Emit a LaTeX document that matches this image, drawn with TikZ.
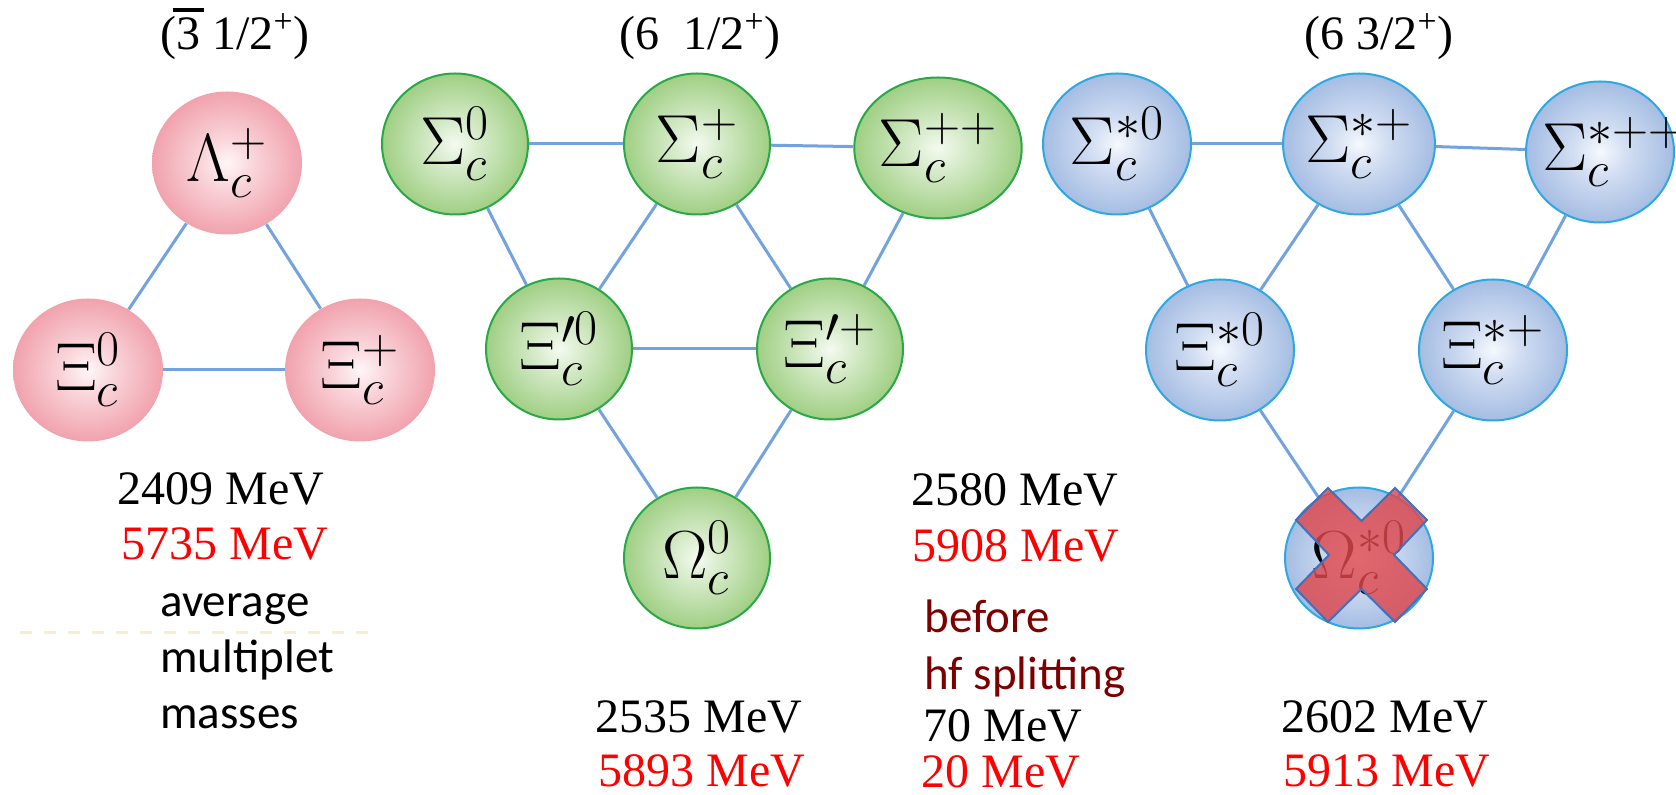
\RequirePackage{fix-cm}
\documentclass[tikz,border=0pt]{standalone}
\usepackage[no-math]{fontspec}
\setmainfont{Liberation Serif}
\newfontfamily\sansf{Carlito}
\DeclareMathSizes{34}{34}{25}{18}
\usetikzlibrary{shapes.geometric}
\definecolor{pinkA}{RGB}{255,246,247}
\definecolor{pinkM}{RGB}{249,212,217}
\definecolor{pinkB}{RGB}{241,162,173}
\definecolor{greenA}{RGB}{244,250,240}
\definecolor{greenM}{RGB}{212,234,199}
\definecolor{greenB}{RGB}{160,207,132}
\definecolor{greenD}{RGB}{40,168,70}
\definecolor{blueA}{RGB}{246,249,254}
\definecolor{blueM}{RGB}{210,222,242}
\definecolor{blueB}{RGB}{165,189,227}
\definecolor{blueD}{RGB}{45,168,225}
\definecolor{lineC}{RGB}{115,163,222}
\definecolor{crossC}{RGB}{222,72,78}
\definecolor{crossD}{RGB}{70,110,185}
\definecolor{dred}{RGB}{125,0,0}
\definecolor{faintY}{RGB}{250,236,205}
\pgfdeclareradialshading{pinkball}{\pgfpoint{0bp}{0bp}}{color(0bp)=(pinkA); color(9bp)=(pinkM); color(25bp)=(pinkB); color(50bp)=(pinkB)}
\pgfdeclareradialshading{greenball}{\pgfpoint{0bp}{0bp}}{color(0bp)=(greenA); color(9bp)=(greenM); color(25bp)=(greenB); color(50bp)=(greenB)}
\pgfdeclareradialshading{blueball}{\pgfpoint{0bp}{0bp}}{color(0bp)=(blueA); color(9bp)=(blueM); color(25bp)=(blueB); color(50bp)=(blueB)}
\begin{document}
\begin{tikzpicture}[x=0.5pt,y=-0.5pt,
  ball/.style={ellipse, inner sep=0pt, font=\fontsize{34}{40}\selectfont},
  pinkn/.style={ball, minimum width=75pt, minimum height=71.5pt, shade, shading=pinkball},
  greenn/.style={ball, minimum width=73pt, minimum height=70.5pt, shade, shading=greenball, draw=greenD, line width=1pt},
  bluen/.style={ball, minimum width=74pt, minimum height=70.5pt, shade, shading=blueball, draw=blueD, line width=1pt},
  link/.style={draw=lineC, line width=1.5pt},
  serif/.style={inner sep=0pt, anchor=base west, font=\fontsize{24}{28}\selectfont},
  sans/.style={inner sep=0pt, anchor=base west, font=\sansf\fontsize{23.5}{28}\selectfont},
  crossst/.style={fill=crossC, fill opacity=0.82, draw=crossD, line width=1pt, line join=miter}]
\fill[white] (0,0) rectangle (1676,795);
\useasboundingbox (0,0) rectangle (1676,795);

% titles
\node[serif] (t1) at (160,50) {(\makebox[0pt][l]{\hspace{-0.08em}\rule[0.8em]{0.66em}{0.08em}}3 1/2\textsuperscript{+})};
\node[serif] (t2) at (619,50) {(6\hspace{0.5em}1/2\textsuperscript{+})};
\node[serif] (t3) at (1304,50) {(6 3/2\textsuperscript{+})};

% antitriplet
\node[pinkn] (lam) at (227,163) {$\Lambda_c^{+}$};
\node[pinkn] (xi0) at (88,370) {$\Xi_c^{0}$};
\node[pinkn] (xip) at (360,370) {$\Xi_c^{+}$};

% sextet 1/2
\node[greenn] (s0) at (455,144) {$\Sigma_c^{0}$};
\node[greenn] (sp) at (697,144) {$\Sigma_c^{+}$};
\node[greenn] (spp) at (938,148) {$\Sigma_c^{++}$};
\node[greenn] (xp0) at (559,349) {$\Xi_c^{\prime 0}$};
\node[greenn] (xpp) at (830,349) {$\Xi_c^{\prime +}$};
\node[greenn] (om) at (697,558) {$\Omega_c^{0}$};

% sextet 3/2
\node[bluen] (ss0) at (1117,144) {$\Sigma_c^{*0}$};
\node[bluen] (ssp) at (1359,144) {$\Sigma_c^{*+}$};
\node[bluen] (sspp) at (1600,152) {\makebox[40pt][l]{\hspace{-9pt}$\Sigma_c^{*++}$}};
\node[bluen] (xs0) at (1220,350) {$\Xi_c^{*0}$};
\node[bluen] (xsp) at (1493,350) {$\Xi_c^{*+}$};
\node[bluen] (oms) at (1359,558) {$\Omega_c^{*0}$};

% connectors
\draw[link] (lam) -- (xi0);
\draw[link] (lam) -- (xip);
\draw[link] (xi0) -- (xip);

\draw[link] (s0) -- (sp);
\draw[link] (sp) -- (spp);
\draw[link] (s0) -- (xp0);
\draw[link] (sp) -- (xp0);
\draw[link] (sp) -- (xpp);
\draw[link] (spp) -- (xpp);
\draw[link] (xp0) -- (xpp);
\draw[link] (xp0) -- (om);
\draw[link] (xpp) -- (om);

\draw[link] (ss0) -- (ssp);
\draw[link] (ssp) -- (sspp);
\draw[link] (ss0) -- (xs0);
\draw[link] (ssp) -- (xs0);
\draw[link] (ssp) -- (xsp);
\draw[link] (sspp) -- (xsp);
\draw[link] (xs0) -- (oms);
\draw[link] (xsp) -- (oms);

% cross over Omega_c^{*0}
\begin{scope}[shift={(oms.center)}]
\filldraw[crossst] (-31,-70) -- (2.5,-37) -- (36,-70) -- (68,-38) -- (35,-3) -- (68,31) -- (36,64) -- (2.5,31) -- (-31,64) -- (-63,31) -- (-30,-3) -- (-63,-38) -- cycle;
\end{scope}

% faint dashed line
\draw[faintY, line width=1.5pt, dash pattern=on 6pt off 6pt] (20,633) -- (380,633);

% masses
\node[serif] (m1a) at (117,505) {2409 MeV};
\node[serif, text=red] (m1b) at (121,560) {5735 MeV};
\node[sans] (avg) at (160,617) {average};
\node[sans] (mult) at (160,673) {multiplet};
\node[sans] (mass) at (160,729) {masses};

\node[serif] (m2a) at (595,733) {2535 MeV};
\node[serif, text=red] (m2b) at (598,787) {5893 MeV};

\node[serif] (m3a) at (911,506) {2580 MeV};
\node[serif, text=red] (m3b) at (912,562) {5908 MeV};
\node[sans, text=dred] (bef) at (924,633) {before};
\node[sans, text=dred] (hf) at (924,690) {hf splitting};
\node[serif] (s70) at (923,742) {70 MeV};
\node[serif, text=red] (s20) at (921,788) {20 MeV};

\node[serif] (m4a) at (1281,733) {2602 MeV};
\node[serif, text=red] (m4b) at (1283,787) {5913 MeV};
\end{tikzpicture}
\end{document}
